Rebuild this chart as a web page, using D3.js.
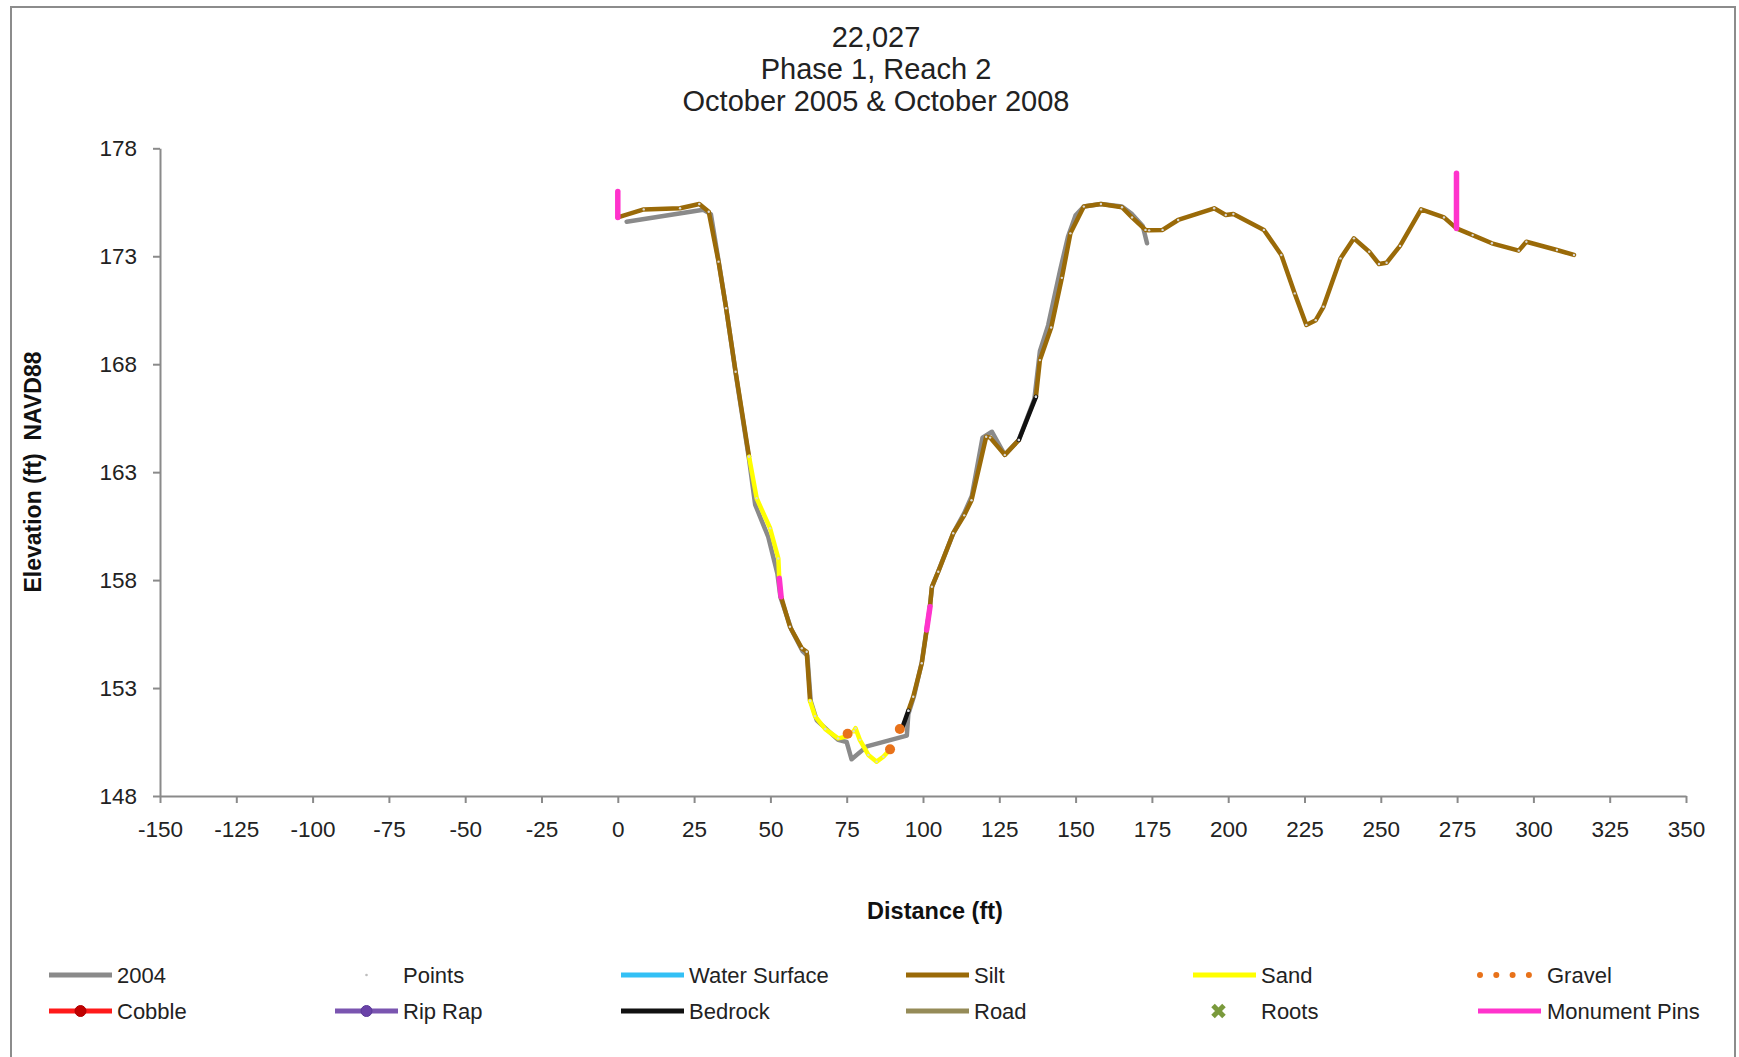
<!DOCTYPE html>
<html>
<head>
<meta charset="utf-8">
<script src="https://cdn.jsdelivr.net/npm/d3@7"></script>
<style>
  html, body { margin: 0; padding: 0; background: #fff; }
  svg { display: block; font-family: "Liberation Sans", Arial, Helvetica, sans-serif; }
  text { white-space: pre; }
</style>
</head>
<body>
<svg id="chart" width="1739" height="1057"></svg>
<script>
// ---- Cross-section 22,027 : survey data (distance ft, elevation ft NAVD88) ----
const titleLines = ["22,027", "Phase 1, Reach 2", "October 2005 & October 2008"];
const xAxisTitle = "Distance (ft)";
const yAxisTitle = "Elevation (ft)  NAVD88";
const xTickValues = [-150, -125, -100, -75, -50, -25, 0, 25, 50, 75, 100, 125, 150, 175, 200, 225, 250, 275, 300, 325, 350];
const yTickValues = [148, 153, 158, 163, 168, 173, 178];

// Earlier profile (2004)
const profile2004 = [
  [2.9, 174.6], [28.0, 175.15], [30.5, 174.95], [33.0, 172.8], [35.5, 170.6], [38.6, 167.6],
  [43.0, 163.6], [45.0, 161.5], [49.3, 160.0], [52.3, 158.3], [53.3, 157.2], [56.9, 155.7],
  [60.6, 154.7], [62.1, 154.5], [63.2, 152.4], [65.2, 151.5], [72.2, 150.6], [75.0, 150.5],
  [76.6, 149.7], [81.6, 150.3], [94.7, 150.8], [95.2, 151.8], [97.0, 152.6], [99.6, 154.2],
  [102.0, 156.5], [103.0, 157.7], [105.0, 158.4], [110.0, 160.2], [113.5, 161.1], [116.0, 161.9],
  [119.5, 164.6], [122.6, 164.87], [126.8, 163.8], [131.4, 164.5], [136.5, 166.4], [138.3, 168.6],
  [141.0, 169.8], [145.0, 172.4], [147.5, 173.9], [150.0, 174.9], [152.7, 175.3], [158.3, 175.42],
  [165.2, 175.3], [168.5, 174.95], [172.0, 174.4], [173.4, 173.6]
];

// 2008 profile, split by bed material
const siltSegments = [
  [[0, 174.8], [8.5, 175.17], [20.4, 175.22], [26.7, 175.42], [29.8, 175.06], [33.0, 172.75],
   [35.5, 170.59], [38.6, 167.65], [43.0, 163.72]],
  [[53.5, 157.23], [56.4, 155.84], [60.3, 154.84], [61.9, 154.68], [63.0, 152.4]],
  [[95.2, 151.95], [96.8, 152.6], [99.6, 154.15], [101.2, 155.69]],
  [[102.3, 156.77], [102.9, 157.69], [105.0, 158.39], [109.9, 160.17], [113.5, 161.0],
   [115.9, 161.7], [120.7, 164.64], [122.0, 164.6], [126.8, 163.8], [131.4, 164.49]],
  [[137.0, 166.49], [138.3, 168.19], [142.0, 169.7], [145.5, 172.0], [148.3, 174.06],
   [152.7, 175.3], [158.3, 175.42], [165.2, 175.27], [168.5, 174.8], [172.9, 174.22],
   [174.1, 174.2], [178.5, 174.22], [183.6, 174.68], [195.4, 175.22], [199.2, 174.91],
   [201.7, 174.96], [211.7, 174.22], [217.4, 173.06], [221.8, 171.28], [225.6, 169.82],
   [228.7, 170.04], [231.2, 170.66], [236.8, 172.9], [241.2, 173.83], [246.2, 173.21],
   [249.4, 172.64], [251.9, 172.7], [256.3, 173.48], [263.2, 175.17], [270.7, 174.8],
   [274.8, 174.29], [280.1, 173.98], [286.4, 173.6], [295.2, 173.26], [297.7, 173.67],
   [307.7, 173.29], [313.3, 173.06]]
];
const sandSegments = [
  [[43.0, 163.72], [45.5, 161.79], [49.9, 160.4], [52.6, 159.0], [52.9, 158.08]],
  [[63.0, 152.4], [64.6, 151.7], [68.0, 151.1], [72.2, 150.67], [74.8, 150.75]],
  [[77.3, 151.0], [77.9, 151.14], [79.3, 150.6], [82.1, 149.9], [84.8, 149.59], [87.0, 149.82], [89.0, 150.12]]
];
const gravelSegments = [
  [[75.3, 150.88], [77.3, 151.0]],
  [[89.2, 150.16], [89.4, 150.18]],
  [[92.4, 151.1], [92.6, 151.12]]
];
const bedrockSegments = [
  [[93.3, 151.2], [95.2, 151.95]],
  [[131.4, 164.49], [137.0, 166.49]]
];
const monumentPins = [
  [[0, 174.8], [0, 176.0]],
  [[52.9, 158.08], [53.5, 157.23]],
  [[101.2, 155.69], [102.3, 156.77]],
  [[274.8, 174.29], [274.8, 176.84]]
];

// Legend entries, two rows of six
const legendRow1 = ["2004", "Points", "Water Surface", "Silt", "Sand", "Gravel"];
const legendRow2 = ["Cobble", "Rip Rap", "Bedrock", "Road", "Roots", "Monument Pins"];

// ---- Styles ----
const colors = {
  "2004": "#8a8a8a",
  "Points": "#c8c8c8",
  "Water Surface": "#33c0f5",
  "Silt": "#9a6a08",
  "Sand": "#ffff00",
  "Gravel": "#e8721a",
  "Cobble": "#ff1a1a",
  "Rip Rap": "#7a55b0",
  "Bedrock": "#111111",
  "Road": "#958b58",
  "Roots": "#7a9a3c",
  "Monument Pins": "#ff33cc"
};

const svg = d3.select("#chart");
const W = 1739, H = 1057;

svg.append("rect").attr("x", 0).attr("y", 0).attr("width", W).attr("height", H).attr("fill", "#fff");
// chart-area frame
svg.append("rect")
  .attr("x", 11).attr("y", 7).attr("width", 1724).attr("height", 1070)
  .attr("fill", "none").attr("stroke", "#8c8c8c").attr("stroke-width", 2);

const x = d3.scaleLinear().domain([-150, 350]).range([160, 1686]);
const y = d3.scaleLinear().domain([148, 178]).range([796, 148.3]);

// ---- Title ----
svg.append("g").selectAll("text").data(titleLines).join("text")
  .attr("x", 876).attr("y", (d, i) => 47 + i * 32.2)
  .attr("text-anchor", "middle")
  .attr("font-size", 29).attr("fill", "#222")
  .text(d => d);

// ---- Axes ----
const axisColor = "#8a8a8a";
const plainNumber = d => String(d);
const xAxis = svg.append("g").attr("transform", `translate(0,${y(148)})`)
  .call(d3.axisBottom(x).tickValues(xTickValues).tickSize(7).tickSizeOuter(0).tickPadding(18).tickFormat(plainNumber));
const yAxis = svg.append("g").attr("transform", `translate(${x(-150)},0)`)
  .call(d3.axisLeft(y).tickValues(yTickValues).tickSize(7).tickSizeOuter(0).tickPadding(16).tickFormat(plainNumber));
[xAxis, yAxis].forEach(g => {
  g.select(".domain").attr("stroke", axisColor).attr("stroke-width", 2);
  g.selectAll(".tick line").attr("stroke", axisColor).attr("stroke-width", 2);
  g.selectAll(".tick text").attr("font-size", 22.5).attr("fill", "#222")
    .attr("font-family", "\"Liberation Sans\", Arial, sans-serif");
});
xAxis.selectAll(".tick text").attr("dy", "0.71em");

svg.append("text")
  .attr("x", 935).attr("y", 919)
  .attr("text-anchor", "middle").attr("font-size", 23.5).attr("font-weight", "bold").attr("fill", "#111")
  .text(xAxisTitle);
svg.append("text")
  .attr("transform", "translate(41,472) rotate(-90)")
  .attr("text-anchor", "middle").attr("font-size", 23).attr("font-weight", "bold").attr("fill", "#111")
  .text(yAxisTitle);

// ---- Profiles ----
const line = d3.line().x(d => x(d[0])).y(d => y(d[1]));
const plot = svg.append("g")
  .attr("fill", "none").attr("stroke-linejoin", "round").attr("stroke-linecap", "round");

plot.append("path").datum(profile2004)
  .attr("d", line).attr("stroke", colors["2004"]).attr("stroke-width", 4.5);

plot.append("g").selectAll("path").data(siltSegments).join("path")
  .attr("d", line).attr("stroke", colors["Silt"]).attr("stroke-width", 4.5);
plot.append("g").selectAll("path").data(sandSegments).join("path")
  .attr("d", line).attr("stroke", colors["Sand"]).attr("stroke-width", 4.5);
plot.append("g").selectAll("path").data(bedrockSegments).join("path")
  .attr("d", line).attr("stroke", colors["Bedrock"]).attr("stroke-width", 4.5);

// survey points on the 2008 profile
const allPoints = [].concat(...siltSegments, ...sandSegments, ...bedrockSegments);
plot.append("g").selectAll("circle").data(allPoints).join("circle")
  .attr("cx", d => x(d[0])).attr("cy", d => y(d[1])).attr("r", 1.2)
  .attr("fill", "#d8d8d8").attr("stroke", "none");

plot.append("g").selectAll("path").data(gravelSegments).join("path")
  .attr("d", line).attr("stroke", colors["Gravel"]).attr("stroke-width", 10)
  .attr("stroke-dasharray", "0 7").attr("stroke-linecap", "round");
plot.append("g").selectAll("path").data(monumentPins).join("path")
  .attr("d", line).attr("stroke", colors["Monument Pins"]).attr("stroke-width", 5.5)
  .attr("stroke-linecap", "round");

// ---- Legend ----
const colX = [49, 335, 621, 906, 1193, 1478];
const rowY = [975, 1011];
const symLen = 63;
const legend = svg.append("g");
[legendRow1, legendRow2].forEach((row, r) => {
  row.forEach((name, c) => {
    const g = legend.append("g").attr("transform", `translate(${colX[c]},${rowY[r]})`);
    const col = colors[name];
    if (name === "Points") {
      g.append("circle").attr("cx", symLen / 2).attr("cy", 0).attr("r", 1.3).attr("fill", "#bdbdbd");
    } else if (name === "Roots") {
      g.append("path").attr("transform", `translate(${symLen / 2 - 6},0)`)
        .attr("d", d3.symbol(d3.symbolX, 80)())
        .attr("stroke", col).attr("stroke-width", 5).attr("fill", "none");
    } else if (name === "Gravel") {
      g.append("line").attr("x1", 2).attr("x2", 52).attr("y1", 0).attr("y2", 0)
        .attr("stroke", col).attr("stroke-width", 6).attr("stroke-linecap", "round")
        .attr("stroke-dasharray", "0 16.3");
    } else {
      g.append("line").attr("x1", 0).attr("x2", symLen).attr("y1", 0).attr("y2", 0)
        .attr("stroke", col).attr("stroke-width", 5);
      if (name === "Cobble" || name === "Rip Rap") {
        g.append("circle").attr("cx", symLen / 2).attr("cy", 0).attr("r", 5.5)
          .attr("fill", name === "Cobble" ? "#c00000" : "#6a42a8")
          .attr("stroke", name === "Cobble" ? "#b00000" : "#5a3a98").attr("stroke-width", 1);
      }
    }
    g.append("text")
      .attr("x", name === "Gravel" || name === "Monument Pins" ? 69 : 68)
      .attr("y", 0).attr("dy", "0.36em")
      .attr("font-size", 22).attr("fill", "#222")
      .text(name);
  });
});
</script>
</body>
</html>
